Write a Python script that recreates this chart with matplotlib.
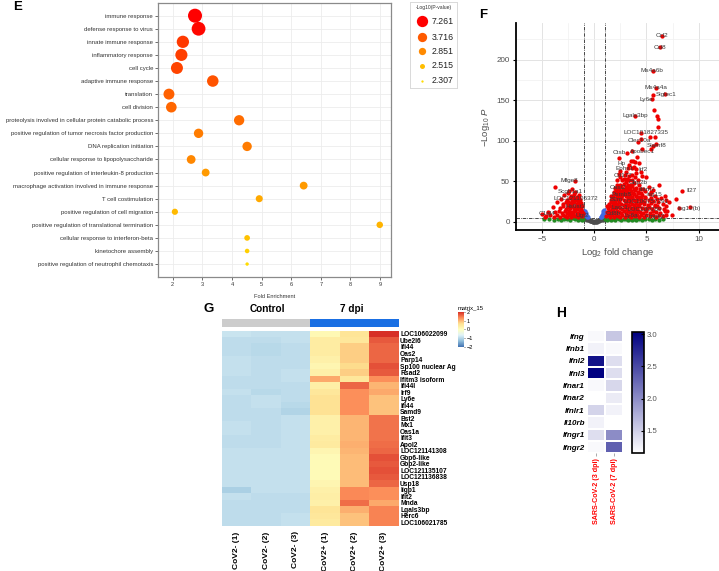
import numpy as np
import matplotlib
matplotlib.use('Agg')
import matplotlib.pyplot as plt
from matplotlib.colors import LinearSegmentedColormap, ListedColormap

plt.rcParams['font.family'] = ['Liberation Sans', 'DejaVu Sans']
plt.rcParams['mathtext.fontset'] = 'custom'
plt.rcParams['mathtext.rm'] = 'Liberation Sans'
plt.rcParams['mathtext.it'] = 'Liberation Sans:italic'

# ---------------- data ----------------
# E: GO enrichment
go_terms = ['immune response', 'defense response to virus', 'innate immune response',
            'inflammatory response', 'cell cycle', 'adaptive immune response', 'translation',
            'cell division', 'proteolysis involved in cellular protein catabolic process',
            'positive regulation of tumor necrosis factor production', 'DNA replication initiation',
            'cellular response to lipopolysaccharide', 'positive regulation of interleukin-8 production',
            'macrophage activation involved in immune response', 'T cell costimulation',
            'positive regulation of cell migration', 'positive regulation of translational termination',
            'cellular response to interferon-beta', 'kinetochore assembly',
            'positive regulation of neutrophil chemotaxis']
go_fold = [2.75, 2.87, 2.34, 2.29, 2.14, 3.35, 1.87, 1.95, 4.24, 2.87, 4.51, 2.62, 3.11,
           6.42, 4.92, 2.07, 8.99, 4.51, 4.51, 4.51]
go_logp = [7.26, 7.0, 5.0, 4.8, 4.6, 4.0, 3.6, 3.5, 3.4, 3.1, 3.1, 2.9, 2.75,
           2.75, 2.65, 2.54, 2.58, 2.49, 2.4, 2.307]
legend_breaks = [2.307, 2.515, 2.851, 3.716, 7.261]
legend_labels = ['2.307', '2.515', '2.851', '3.716', '7.261']

# F: volcano (log2 fold change, -log10 P)
up_pts = [(1.15, 7), (1.3, 9), (1.5, 6), (1.7, 8), (1.9, 6.5), (2.1, 9), (2.3, 7), (2.5, 6), (2.7, 8.5),
          (2.9, 6.5), (3.1, 9), (3.3, 7), (3.5, 6), (3.7, 8.5), (3.9, 7), (4.1, 9), (4.3, 6), (4.5, 8),
          (4.8, 6.5), (5.0, 9), (5.3, 7), (5.6, 8.5), (5.9, 6), (6.2, 8), (6.6, 7), (6.9, 9),
          (1.2, 12), (1.4, 14), (1.6, 11), (1.8, 13), (2.0, 11.5), (2.2, 14), (2.4, 12), (2.6, 10.5),
          (2.8, 13.5), (3.0, 11), (3.2, 14), (3.4, 12), (3.6, 10.5), (3.8, 13), (4.0, 11), (4.2, 14),
          (4.4, 12), (4.7, 10.5), (5.0, 13), (5.3, 11), (5.6, 14), (5.9, 12), (6.3, 11), (6.8, 13),
          (1.3, 17), (1.5, 19), (1.7, 16), (1.9, 18.5), (2.1, 16.5), (2.3, 19), (2.5, 17), (2.7, 15.5),
          (2.9, 18), (3.1, 16), (3.3, 19), (3.5, 17), (3.7, 15.5), (3.9, 18), (4.1, 16), (4.3, 19),
          (4.6, 17), (4.9, 15.5), (5.2, 18), (5.5, 16), (5.8, 19), (6.2, 17), (6.7, 16),
          (1.4, 22), (1.6, 24), (1.8, 21), (2.0, 23.5), (2.2, 21.5), (2.4, 24), (2.6, 22), (2.8, 20.5),
          (3.0, 23), (3.2, 21), (3.4, 24), (3.6, 22), (3.8, 20.5), (4.0, 23), (4.2, 21), (4.5, 24),
          (4.8, 22), (5.1, 20.5), (5.4, 23), (5.8, 21), (6.1, 24), (6.6, 22),
          (1.6, 27), (1.8, 29), (2.0, 26), (2.2, 28.5), (2.4, 26.5), (2.6, 29), (2.8, 27), (3.0, 25.5),
          (3.2, 28), (3.4, 26), (3.6, 29), (3.8, 27), (4.0, 25.5), (4.3, 28), (4.6, 26), (4.9, 29),
          (5.2, 27), (5.6, 26), (6.0, 28), (6.4, 30),
          (1.8, 32), (2.0, 34), (2.2, 31), (2.4, 33.5), (2.6, 31.5), (2.8, 34), (3.0, 32), (3.2, 30.5),
          (3.4, 33), (3.6, 31), (3.8, 34), (4.0, 32), (4.3, 30.5), (4.6, 33), (4.9, 31), (5.3, 34), (5.8, 32),
          (1.9, 37), (2.1, 39), (2.3, 36), (2.5, 38.5), (2.7, 36.5), (2.9, 39), (3.1, 37), (3.3, 35.5),
          (3.5, 38), (3.7, 36), (3.9, 39), (4.2, 37), (4.5, 35.5), (4.9, 38), (5.4, 37),
          (2.0, 42), (2.2, 45), (2.4, 41), (2.6, 44), (2.8, 47), (3.0, 42.5), (3.2, 46), (3.4, 41.5),
          (3.6, 44), (3.8, 48), (4.0, 42), (4.3, 45), (4.7, 41), (5.2, 43), (6.2, 45),
          (2.2, 52), (2.5, 55), (2.7, 51), (2.9, 58), (3.1, 53), (3.3, 56), (3.6, 51.5), (3.9, 55),
          (4.2, 52), (4.6, 57), (5.0, 55), (2.4, 59),
          (2.5, 63), (3.0, 62), (3.3, 70), (3.6, 66), (4.0, 65), (4.5, 62), (3.5, 75), (3.8, 68),
          (2.36, 79), (4.3, 72), (3.2, 66), (3.7, 75), (3.87, 73.7), (4.1, 80), (4.6, 90),
          (3.15, 84.5), (3.65, 87.7), (4.2, 98), (4.5, 102), (5.45, 90), (5.6, 94), (5.95, 95.5),
          (5.35, 105), (5.8, 105), (4.5, 110), (6.07, 116.5), (3.87, 131), (5.7, 137.5), (6.0, 131),
          (6.07, 127), (5.5, 151), (5.6, 156), (5.9, 165), (6.8, 157), (5.6, 186), (6.29, 215),
          (6.48, 229.6),
          (8.43, 38), (7.87, 28), (9.15, 17.8), (8.1, 17.3), (6.8, 32), (6.9, 27), (6.9, 20),
          (7.0, 13), (7.4, 9), (7.2, 24),
          # extra fill in the dense core
          (1.45, 10), (1.75, 15), (2.05, 19.5), (2.35, 27.5), (2.65, 33), (2.95, 35), (3.25, 40),
          (3.55, 45.5), (3.85, 41), (4.15, 35), (4.45, 29.5), (4.75, 25), (5.05, 17), (2.15, 35.5),
          (2.45, 46), (2.75, 40), (3.05, 49), (3.35, 52), (3.65, 58), (3.95, 60), (2.85, 53),
          (1.55, 13.5), (1.85, 25), (2.55, 30.5), (3.45, 30), (4.05, 28), (4.35, 23), (5.45, 29),
          (1.25, 20), (1.65, 32), (2.25, 41.5), (3.15, 43.5), (4.4, 40), (5.6, 39), (6.0, 20)]
down_pts = [(-4.6, 7), (-4.2, 9), (-3.9, 6), (-3.6, 8), (-3.3, 6.5), (-3.0, 9), (-2.8, 7), (-2.6, 6),
            (-2.4, 8.5), (-2.2, 6.5), (-2.0, 9), (-1.8, 7), (-1.6, 6), (-1.4, 8.5), (-1.2, 7), (-1.05, 9.5),
            (-3.8, 12), (-3.4, 14), (-3.1, 11), (-2.8, 13), (-2.6, 11.5), (-2.4, 14), (-2.2, 12), (-2.0, 10.5),
            (-1.8, 13.5), (-1.6, 11), (-1.4, 14), (-1.2, 12), (-1.1, 10.5),
            (-3.3, 17), (-3.0, 19), (-2.7, 16), (-2.5, 18.5), (-2.3, 16.5), (-2.1, 19), (-1.9, 17),
            (-1.7, 15.5), (-1.5, 18), (-1.3, 16), (-1.15, 19),
            (-3.0, 22), (-2.7, 24), (-2.5, 21), (-2.3, 23.5), (-2.1, 21.5), (-1.9, 24), (-1.7, 22),
            (-1.5, 20.5), (-1.3, 23),
            (-2.6, 27), (-2.3, 29), (-2.1, 26), (-1.9, 28.5), (-1.7, 26.5), (-1.5, 29), (-1.35, 27),
            (-2.2, 32), (-1.9, 34), (-1.7, 31), (-1.5, 33),
            (-3.77, 42.5), (-2.4, 38), (-2.1, 40), (-1.85, 50), (-2.5, 35), (-1.8, 37), (-2.9, 33),
            (-3.2, 28), (-3.6, 24), (-4.0, 18), (-4.4, 12), (-5.0, 9.5), (-4.7, 6.2),
            (-1.25, 14.5), (-1.55, 25), (-1.95, 14.5), (-2.35, 10), (-1.45, 11.5), (-1.75, 19.5),
            (-2.05, 31), (-1.65, 9.5), (-2.55, 24.5)]
fc_only_pts = [(-4.8, 3), (-4.3, 4), (-3.9, 2.5), (-3.5, 3.5), (-3.2, 2), (-2.9, 4), (-2.6, 3), (-2.3, 2),
               (-2.0, 4.2), (-1.8, 3), (-1.6, 2), (-1.4, 4), (-1.2, 2.5), (-1.05, 3.5),
               (1.05, 3), (1.2, 2), (1.4, 4), (1.6, 2.5), (1.8, 3.8), (2.0, 2), (2.2, 4.2), (2.4, 3),
               (2.6, 2), (2.8, 4), (3.0, 3), (3.2, 2), (3.4, 4), (3.6, 2.8), (3.8, 3.8), (4.0, 2.2),
               (4.3, 3.5), (4.6, 2.5), (4.9, 4), (5.2, 3), (5.5, 2), (5.8, 3.8), (6.2, 2.5), (6.6, 3.5)]
p_only_pts = [(0.6, 5.5), (0.7, 7), (0.75, 9), (0.8, 11), (0.85, 13), (0.9, 8), (0.95, 15), (0.65, 6),
              (0.9, 11.5), (-0.6, 5.5), (-0.7, 7), (-0.75, 9), (-0.8, 11), (-0.85, 13), (-0.9, 8),
              (-0.95, 14), (-0.65, 6)]
ns_pts = [(0, 0.2), (0.1, 0.5), (-0.1, 0.4), (0.2, 0.8), (-0.2, 0.9), (0.3, 1.3), (-0.3, 1.2), (0.4, 1.8),
          (-0.4, 1.9), (0.5, 2.5), (-0.5, 2.4), (0.6, 3.2), (-0.6, 3), (0.7, 3.8), (-0.7, 4), (0.8, 4.6),
          (-0.8, 4.5), (0.15, 0.3), (-0.25, 0.6), (0.35, 1), (-0.45, 1.4), (0.55, 1.8), (-0.55, 2),
          (0.65, 2.4), (-0.65, 2.6), (0.75, 3), (-0.85, 3.5), (0.9, 3.4), (0.05, 0.1), (0.25, 0.4),
          (-0.35, 0.7), (0.45, 1.1), (-0.15, 0.2), (0.85, 2.5), (-0.9, 3), (0.95, 4.2), (-0.95, 4.4)]
volcano_labels = [('Ccl2', 6.5, 229.6), ('Ccl8', 6.3, 215), ('Ms4a6b', 5.5, 186), ('Ms4a4a', 5.9, 166),
                  ('Siglec1', 6.9, 157), ('Ly6e', 5.0, 151), ('Lgals3bp', 3.9, 131),
                  ('LOC101827335', 5.0, 110), ('Clec10a', 4.3, 100), ('Slamf8', 6.0, 94),
                  ('Apobec1', 4.66, 87), ('Ctsb', 2.4, 85), ('Hp', 2.6, 72), ('Ephx1', 2.87, 66),
                  ('Irf2', 4.66, 65), ('Cd177', 2.77, 57), ('Gbp2b', 4.2, 49), ('Oasl2', 2.3, 42),
                  ('Ifitm7', 5.1, 40), ('Psmb8', 2.6, 34), ('Isg15', 5.7, 34), ('B2m', 2.1, 27),
                  ('LOC100757291', 5.0, 25), ('Lacc1', 2.45, 18), ('LOC100769', 4.8, 15),
                  ('Cd8b', 1.8, 10), ('Ly6a', 3.55, 8), ('Cmpk2', 5.75, 7), ('Il27', 9.3, 39),
                  ('Isg12(b)', 9.05, 16.5), ('Mfge8', -2.4, 50.6), ('Scgb1a1', -2.26, 38),
                  ('LOC121106372', -1.8, 29), ('Hs6st3', -1.8, 18.5), ('C1ql4', -4.55, 10),
                  ('Ugt2', -1.15, 8)]

# G: heatmap of z-scores
g_genes = ['LOC106022099', 'Ube2l6', 'Ifi44', 'Oas2', 'Parp14', 'Sp100 nuclear Ag', 'Rsad2',
           'Ifitm3 isoform', 'Ifi44l', 'Irf9', 'Ly6e', 'Ifi44', 'Samd9', 'Bst2', 'Mx1', 'Oas1a',
           'Ifit3', 'Apol2', 'LOC121141308', 'Gbp6-like', 'Gbp2-like', 'LOC121135107',
           'LOC121136838', 'Usp18', 'Iigp1', 'Ifit2', 'Mnda', 'Lgals3bp', 'Herc6', 'LOC106021785']
g_samples = ['CoV2- (1)', 'CoV2- (2)', 'CoV2- (3)', 'CoV2+ (1)', 'CoV2+ (2)', 'CoV2+ (3)']
g_values = [
    [-0.85, -0.90, -0.90, 0.15, 0.55, 2.00],
    [-0.95, -0.95, -0.90, 0.40, 0.50, 1.70],
    [-0.95, -1.00, -0.95, 0.40, 0.80, 1.60],
    [-0.95, -1.00, -0.95, 0.40, 0.80, 1.60],
    [-0.90, -0.95, -0.95, 0.30, 0.80, 1.60],
    [-0.90, -0.95, -0.95, 0.20, 0.70, 1.75],
    [-0.90, -0.95, -0.90, 0.30, 0.80, 1.70],
    [-0.95, -0.95, -0.90, 1.10, 0.50, 1.30],
    [-0.95, -0.95, -0.95, 0.35, 1.60, 1.00],
    [-0.90, -1.00, -0.95, 0.50, 1.30, 1.10],
    [-0.95, -0.90, -0.95, 0.60, 1.30, 0.90],
    [-0.95, -0.90, -1.00, 0.60, 1.30, 0.90],
    [-0.95, -0.95, -1.05, 0.60, 1.30, 0.90],
    [-0.95, -0.95, -0.90, 0.30, 1.00, 1.50],
    [-0.90, -0.95, -0.90, 0.30, 1.00, 1.50],
    [-0.90, -0.95, -0.90, 0.30, 1.00, 1.50],
    [-0.95, -0.95, -0.90, 0.40, 1.00, 1.50],
    [-0.95, -0.95, -0.90, 0.45, 1.05, 1.55],
    [-0.90, -0.90, -0.90, 0.20, 1.00, 1.60],
    [-0.90, -0.90, -0.90, 0.10, 0.95, 1.75],
    [-0.90, -0.90, -0.90, 0.10, 0.95, 1.70],
    [-0.90, -0.90, -0.90, 0.10, 0.95, 1.75],
    [-0.90, -0.90, -0.90, 0.10, 0.95, 1.70],
    [-0.90, -0.90, -0.90, 0.20, 0.95, 1.60],
    [-1.10, -0.90, -0.90, 0.30, 1.35, 1.30],
    [-0.90, -0.95, -0.95, 0.35, 1.35, 1.30],
    [-0.95, -0.95, -0.95, 0.30, 1.55, 1.10],
    [-0.95, -0.95, -0.95, 0.55, 1.05, 1.40],
    [-0.95, -0.95, -0.90, 0.50, 0.90, 1.40],
    [-0.95, -0.95, -0.90, 0.45, 0.90, 1.40],
]

# H: interferon genes
h_genes = ['Ifng', 'Ifnb1', 'Ifnl2', 'Ifnl3', 'Ifnar1', 'Ifnar2', 'Ifnlr1', 'Il10rb', 'Ifngr1', 'Ifngr2']
h_conditions = ['SARS-CoV-2 (3 dpi)', 'SARS-CoV-2 (7 dpi)']
h_3dpi = [1.2, 1.25, 2.9, 3.02, 1.2, np.nan, 1.47, 1.25, 1.4, 1.2]
h_7dpi = [1.57, 1.2, 1.4, 1.4, 1.45, 1.3, 1.25, np.nan, 2.0, 2.33]

# ---------------- figure ----------------
W, H = 719, 571
fig = plt.figure(figsize=(W / 100, H / 100), dpi=100)


def px_axes(l, t, r, b):
    return fig.add_axes([l / W, 1 - b / H, (r - l) / W, (b - t) / H])


# ---- E ----
leg_hex = ['#ffdc00', '#ffbe00', '#ff8a00', '#ff5a00', '#ff0000']
leg_rgb = np.array([matplotlib.colors.to_rgb(c) for c in leg_hex])
leg_diam = [3.4, 6.0, 8.6, 11.3, 14.0]


def go_color(v):
    return tuple(np.interp(v, legend_breaks, leg_rgb[:, k]) for k in range(3))


axE = px_axes(158, 3, 391, 277)
rows = np.arange(len(go_terms))
diam = np.interp(go_logp, legend_breaks, leg_diam)
axE.scatter(go_fold, rows, s=(diam * 0.72) ** 2, c=[go_color(v) for v in go_logp],
            linewidths=0, zorder=3)
axE.set_xlim(1.5, 9.37)
axE.set_ylim(19.99, -0.97)
axE.set_yticks(rows)
axE.set_yticklabels(go_terms, fontsize=4.35, color='#333333')
axE.set_xticks(range(2, 10))
axE.tick_params(axis='x', labelsize=4.1, colors='#333333', length=2, width=0.5, pad=1.5)
axE.tick_params(axis='y', length=2, width=0.5, pad=1.5, colors='#333333')
axE.grid(color='#ececec', lw=0.6)
axE.set_axisbelow(True)
for s in axE.spines.values():
    s.set_color('#8a8a8a')
    s.set_linewidth(0.9)
axE.set_xlabel('Fold Enrichment', fontsize=4.1, color='#333333', labelpad=5)
fig.text(18 / W, 1 - 7 / H, 'E', fontsize=9.5, fontweight='bold', ha='center', va='center')

# E legend
axL = px_axes(410, 2, 457, 88)
axL.set_xlim(410, 457)
axL.set_ylim(88, 2)
axL.set_xticks([])
axL.set_yticks([])
for s in axL.spines.values():
    s.set_color('#d9d9d9')
    s.set_linewidth(0.7)
leg_y = [81, 66, 51, 37, 21]
leg_d_box = [2.3, 5.0, 7.3, 9.3, 11.3]
for v, lab, yy, dd in zip(legend_breaks, legend_labels, leg_y, leg_d_box):
    axL.scatter([421.7], [yy], s=(dd * 0.72) ** 2, color=go_color(v), linewidths=0)
    axL.text(432, yy, lab, fontsize=6.3, va='center', ha='left', color='#222222')
axL.text(433.5, 7.5, '-Log10(P-value)', fontsize=3.6, ha='center', va='center', color='#333333')

# ---- F ----
axF = px_axes(516, 23, 719, 230)
axF.set_xlim(-7.2, 11.95)
axF.set_ylim(-10, 245)
axF.set_xticks([-5, 0, 5, 10])
axF.set_yticks([0, 50, 100, 150, 200])
axF.set_xticks([-7.5, -2.5, 2.5, 7.5], minor=True)
axF.set_yticks([25, 75, 125, 175, 225], minor=True)
axF.grid(which='major', color='#e3e3e3', lw=0.7)
axF.grid(which='minor', color='#f0f0f0', lw=0.5)
axF.set_axisbelow(True)
axF.tick_params(which='minor', length=0)
axF.tick_params(which='major', length=2.5, width=0.8, labelsize=5.8, colors='black', labelcolor='#4d4d4d', pad=2)
for side in ['top', 'right']:
    axF.spines[side].set_visible(False)
for side in ['left', 'bottom']:
    axF.spines[side].set_linewidth(1.3)

for pts, col in [(ns_pts, '#4d4d4d'), (fc_only_pts, '#228b22'), (p_only_pts, '#4169e1'),
                 (down_pts, '#ee0000'), (up_pts, '#ee0000')]:
    arr = np.array(pts)
    axF.scatter(arr[:, 0], arr[:, 1], s=9.5, color=col, linewidths=0, zorder=3)
for lab, x, y in volcano_labels:
    axF.text(x, y, lab, fontsize=4.6, color='#3a3a3a', ha='center', va='center', zorder=4)
dash = (0, (5, 1.5, 1, 1.5))
axF.axvline(-1, color='black', lw=0.5, ls=dash, zorder=2)
axF.axvline(1, color='black', lw=0.5, ls=dash, zorder=2)
axF.axhline(5, color='black', lw=0.5, ls=dash, zorder=2)
axF.set_xlabel('Log$_2$ fold change', fontsize=6.8, color='#4d4d4d', labelpad=2)
axF.set_ylabel('$-$Log$_{10}$ $\\mathit{P}$', fontsize=6.8, color='#4d4d4d', labelpad=3)
fig.text(482.7 / W, 1 - 15 / H, 'F', fontsize=9.5, fontweight='bold', ha='center', va='center')

# ---- G ----
cmapG = LinearSegmentedColormap.from_list(
    'rdylbu', ['#4575b4', '#91bfdb', '#e0f3f8', '#ffffbf', '#fee090', '#fc8d59', '#d73027'])
axG = px_axes(222, 330.7, 398.7, 525.7)
imG = axG.imshow(np.array(g_values), cmap=cmapG, vmin=-2, vmax=2, aspect='auto',
                 interpolation='nearest')
axG.set_yticks(range(len(g_genes)))
axG.set_yticklabels(g_genes, fontsize=4.8, fontweight='bold')
axG.yaxis.tick_right()
axG.set_xticks(range(len(g_samples)))
axG.set_xticklabels(g_samples, rotation=90, fontsize=6, fontweight='bold', va='top')
axG.tick_params(length=0, pad=1)
axG.tick_params(axis='x', pad=4)
for s in axG.spines.values():
    s.set_visible(False)

axA = px_axes(222, 319.3, 398.7, 327)
axA.imshow([[0, 0, 0, 1, 1, 1]], cmap=ListedColormap(['#cccccc', '#1a6fe3']), aspect='auto',
           interpolation='nearest')
axA.axis('off')
fig.text(267.7 / W, 1 - 309 / H, 'Control', fontsize=7.2, fontweight='bold', ha='center', va='center')
fig.text(352 / W, 1 - 309 / H, '7 dpi', fontsize=7.2, fontweight='bold', ha='center', va='center')
fig.text(209 / W, 1 - 309 / H, 'G', fontsize=9.5, fontweight='bold', ha='center', va='center')

axCG = px_axes(457.7, 312, 464, 346.7)
cbG = fig.colorbar(imG, cax=axCG, ticks=[-2, -1, 0, 1, 2])
cbG.outline.set_visible(False)
axCG.tick_params(labelsize=4, length=1, width=0.4, pad=1)
fig.text(458 / W, 1 - 308 / H, 'matrix_15', fontsize=4.2, ha='left', va='center')

# ---- H ----
cmapH = LinearSegmentedColormap.from_list('wb', ['#ffffff', '#000080'])
axH = px_axes(587, 330, 623, 453.3)
h_data = np.ma.masked_invalid(np.array([h_3dpi, h_7dpi]).T)
meshH = axH.pcolormesh(h_data, cmap=cmapH, vmin=1.15, vmax=3.04, edgecolors='white', linewidth=1.3)
axH.set_ylim(len(h_genes), 0)
axH.set_yticks(np.arange(len(h_genes)) + 0.5)
axH.set_yticklabels(h_genes, fontsize=5.8, fontweight='bold', fontstyle='italic')
axH.set_xticks([0.5, 1.5])
axH.set_xticklabels(h_conditions, rotation=90, fontsize=5.1, fontweight='bold', color='#ff0000', va='top')
axH.tick_params(axis='y', length=0, pad=1.5)
axH.tick_params(axis='x', length=2.5, width=0.5, color='#888888', pad=1)
for s in axH.spines.values():
    s.set_visible(False)
fig.text(560.7 / W, 1 - 313 / H, 'H', fontsize=10, fontweight='bold', ha='center', va='center')

axCH = px_axes(631.7, 331.7, 644, 453.3)
cbH = fig.colorbar(meshH, cax=axCH, ticks=[1.5, 2.0, 2.5, 3.0])
cbH.ax.set_yticklabels(['1.5', '2.0', '2.5', '3.0'])
cbH.outline.set_linewidth(1.2)
axCH.tick_params(labelsize=5.6, length=2, width=0.8, direction='in', colors='black',
                 labelcolor='#555555', pad=2)

fig.savefig('out.png', dpi=100)
